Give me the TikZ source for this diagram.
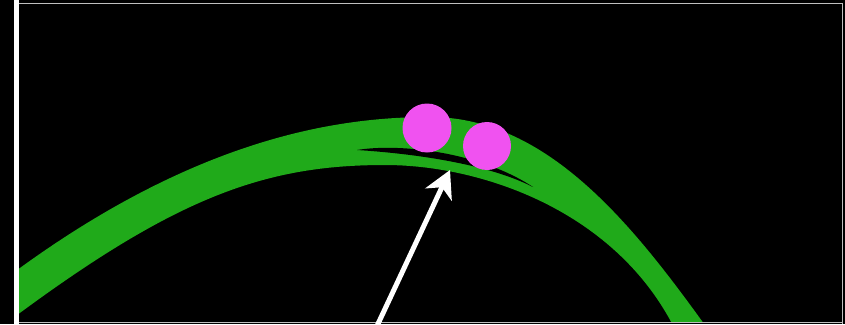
\documentclass[tikz,border=0pt]{standalone}
\usetikzlibrary{arrows.meta}

\definecolor{bandgreen}{RGB}{32,170,26}
\definecolor{beadpink}{RGB}{240,82,240}
\colorlet{frameline}{white!75!black}

\begin{document}
\begin{tikzpicture}[x=1pt, y=-1pt,
    bead/.style={circle, fill=beadpink, inner sep=0pt, minimum size=#1},
    pointer/.style={white, line width=5pt, -{Stealth[length=27pt, width=29pt, inset=8pt]}},
  ]
    \useasboundingbox (0,0) rectangle (845,324);
    % frame
    \fill[black](0,0) rectangle (845,324);
    \fill[white](14,0) rectangle (19,324);
    \draw[frameline, line width=1.3pt](19,3.3)--(843,3.3);
    \draw[frameline, line width=1pt](842.5,3)--(842.5,324);
    \draw[frameline, line width=1pt](19,322)--(843,322);
    % green band with its split
    \begin{scope}
      \clip(19,4) rectangle (842,321.5);
      \fill[bandgreen](5,279) .. controls (195,136.5) and (340,117) .. (430,117)
        .. controls (550,117) and (636.6,229.7) .. (712,335)
        -- (680,340) .. controls (624,214) and (485,165) .. (385,165)
        .. controls (265,165) and (175,196.5) .. (5,324) -- cycle;
      \fill[black](357,150) .. controls (400,143) and (480,152) .. (533,187)
        .. controls (490,165) and (420,154) .. (357,150) -- cycle;
    \end{scope}
    % beads
    \node[bead=49pt] (beadL) at (427,128) {};
    \node[bead=48pt] (beadR) at (487,146) {};
    % arrow
    \coordinate (tail) at (377,326);
    \coordinate (tip) at (450,170);
    \draw[pointer](tail)--(tip);
  \end{tikzpicture}
\end{document}
